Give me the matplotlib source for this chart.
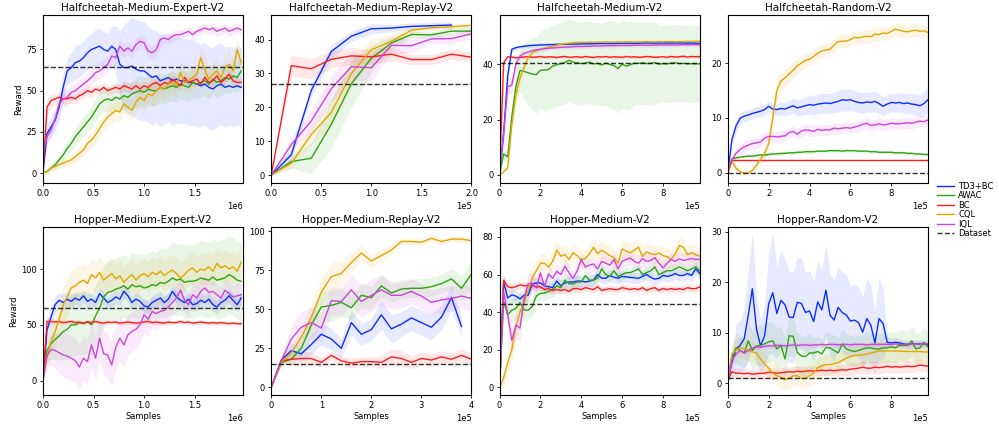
import numpy as np
import matplotlib
matplotlib.use('Agg')
import matplotlib.pyplot as plt

# Halfcheetah-Medium-Expert-V2 (paso 4e4)
hcme_td3 = [0, 24, 28, 32, 40, 52, 62, 64, 67, 68, 70, 73, 75, 76, 77, 75, 74, 77, 75, 66,
            64, 64, 65, 63, 62, 62, 60, 58, 59, 56, 57, 58, 56, 57, 56, 56, 55, 55, 54, 53,
            54, 52, 51, 53, 54, 52, 53, 52, 53, 52]
hcme_td3_sd = [0, 6, 6, 7, 8, 8, 8, 9, 10, 10, 10, 10, 10, 11, 11, 11, 11, 12, 14, 20,
               26, 28, 30, 30, 30, 30, 29, 29, 28, 28, 27, 27, 27, 27, 26, 26, 26, 26, 26, 25,
               25, 25, 25, 25, 25, 24, 24, 24, 24, 24]
hcme_awac = [0, 1, 3, 5, 8, 11, 15, 18, 22, 25, 28, 31, 34, 38, 42, 44, 45, 44, 46, 45,
             47, 46, 48, 49, 50, 49, 51, 50, 50, 52, 51, 52, 53, 52, 54, 53, 52, 55, 54, 55,
             56, 54, 57, 55, 56, 58, 57, 59, 58, 62]
hcme_awac_sd = [0, 2, 2, 3, 3, 4, 4, 5, 5, 6, 6, 6, 7, 7, 7, 7, 7, 8, 8, 8,
                8, 8, 8, 9, 9, 9, 9, 9, 9, 9, 9, 9, 9, 9, 9, 9, 9, 9, 9, 9,
                9, 9, 9, 9, 9, 9, 9, 9, 9, 9]
hcme_bc = [0, 40, 44, 45, 46, 45, 45, 46, 45, 47, 48, 50, 49, 51, 50, 52, 50, 51, 52, 51,
           53, 52, 51, 53, 51, 53, 52, 54, 55, 53, 55, 54, 57, 55, 53, 58, 55, 56, 57, 54,
           58, 55, 56, 59, 55, 57, 60, 56, 55, 55]
hcme_bc_sd = [0, 5, 4, 3, 3, 3, 3, 3, 3, 3, 3, 3, 3, 3, 3, 3, 3, 3, 3, 3,
              3, 3, 3, 3, 3, 3, 3, 3, 3, 3, 3, 3, 3, 3, 3, 3, 3, 3, 3, 3,
              3, 3, 3, 3, 3, 3, 3, 3, 3, 3]
hcme_cql = [0, 1, 3, 4, 5, 6, 7, 8, 10, 12, 14, 18, 20, 23, 27, 31, 34, 36, 38, 37,
            42, 40, 38, 43, 46, 44, 48, 47, 50, 52, 51, 54, 55, 53, 61, 55, 56, 58, 60, 70,
            63, 57, 60, 62, 58, 64, 66, 62, 75, 67]
hcme_cql_sd = [0, 1, 2, 2, 2, 3, 3, 3, 4, 4, 4, 5, 5, 5, 5, 5, 6, 6, 6, 6,
               6, 6, 6, 6, 6, 6, 7, 7, 7, 7, 7, 7, 7, 7, 7, 7, 7, 7, 7, 7,
               7, 7, 7, 7, 7, 7, 7, 7, 7, 7]
hcme_iql = [12, 22, 26, 33, 42, 45, 46, 49, 50, 52, 54, 56, 58, 61, 62, 64, 66, 71, 70, 77,
            74, 76, 74, 78, 80, 79, 74, 73, 75, 81, 82, 81, 83, 84, 84, 85, 86, 84, 86, 87,
            88, 87, 88, 86, 87, 88, 86, 87, 88, 87]
hcme_iql_sd = [3, 4, 4, 4, 5, 5, 5, 5, 5, 5, 5, 5, 5, 5, 5, 5, 5, 5, 5, 5,
               4, 4, 4, 4, 4, 4, 4, 4, 4, 4, 3, 3, 3, 3, 3, 3, 3, 3, 3, 3,
               3, 3, 3, 3, 3, 3, 3, 3, 3, 3]
hcme_data = 64.5

# Halfcheetah-Medium-Replay-V2 (paso 2e4)
hcmr_td3 = [0, 6, 25, 36.5, 41, 43.2, 43.4, 43.9, 44.1, 44.3]
hcmr_td3_sd = [0, 1.5, 2, 2, 1.5, 1.5, 1, 1, 1, 1]
hcmr_awac = [0, 4, 5, 15, 27, 34.5, 39, 41.5, 41.4, 42.5, 42.5]
hcmr_awac_sd = [0, 2, 4.5, 7, 7, 4, 2, 1, 1, 1, 1]
hcmr_bc = [0, 32.3, 31.4, 34.2, 35.2, 34.9, 35.7, 34.1, 34.1, 35.7, 34.8]
hcmr_bc_sd = [0, 3, 3, 2.5, 2.5, 2, 2, 1.5, 1.5, 1.5, 1.5]
hcmr_cql = [0, 3.5, 12, 18.5, 30, 37, 39.5, 42.8, 43.5, 43.8, 44.2]
hcmr_cql_sd = [0, 1.5, 3, 4, 4, 3, 2, 1, 0.8, 0.8, 0.8]
hcmr_iql = [0, 9, 16, 25.5, 32, 31.7, 38.3, 38.2, 40.2, 40.3, 41.7]
hcmr_iql_sd = [0, 2, 3, 4, 4, 4, 2.5, 2, 1.5, 1.5, 1.5]
hcmr_data = 27

# Halfcheetah-Medium-V2 (paso 2e4)
hcm_td3 = [0, 15, 36, 45.5, 46.1, 46.4, 46.6, 46.8, 46.9, 47.0, 47.1, 47.1, 47.2, 47.2, 47.3,
           47.3, 47.3, 47.4, 47.4, 47.4, 47.5, 47.5, 47.5, 47.5, 47.6, 47.6, 47.6, 47.6, 47.6,
           47.7, 47.7, 47.7, 47.7, 47.7, 47.7, 47.8, 47.8, 47.8, 47.7, 47.8, 47.8, 47.8, 47.8,
           47.8, 47.8, 47.8, 47.7, 47.8, 47.7, 47.6]
hcm_td3_sd = [0, 4, 3, 1, 0.8, 0.7, 0.7, 0.7, 0.7, 0.7, 0.7, 0.7, 0.7, 0.7, 0.7, 0.7, 0.7,
              0.7, 0.7, 0.7, 0.7, 0.7, 0.7, 0.7, 0.7, 0.7, 0.7, 0.7, 0.7, 0.7, 0.7, 0.7, 0.7,
              0.7, 0.7, 0.7, 0.7, 0.7, 0.7, 0.7, 0.7, 0.7, 0.7, 0.7, 0.7, 0.7, 0.7, 0.7, 0.7, 0.7]
hcm_awac = [0, 7.5, 6.5, 21, 32, 37.8, 37.5, 37, 36.5, 36.3, 37.9, 38, 38.2, 39.4, 39.9,
            40.3, 40.7, 41.5, 40.8, 40.6, 40.3, 40.5, 40.9, 40.2, 40.4, 39.8, 40.5, 40.0, 39.6,
            38.5, 40.1, 39.4, 39.9, 40.5, 40.4, 40.6, 40.3, 40.4, 40.7, 40.1, 40.3, 40.2, 40.5,
            40.6, 40.3, 40.4, 40.2, 40.3, 40.2, 40.2]
hcm_awac_sd = [1, 2, 2, 3, 5, 8, 10, 12, 13, 14, 14, 15, 15, 15, 15, 15, 15, 15, 15, 15,
               15, 15, 15, 15, 15, 15, 15, 16, 16, 16, 16, 16, 16, 15, 15, 15, 15, 15, 15, 14,
               14, 14, 14, 14, 14, 14, 14, 14, 14, 14]
hcm_bc = [0, 40.5, 42.8, 42.7, 42.4, 42.6, 42.7, 42.8, 42.6, 42.7, 42.9, 42.6, 42.8, 42.7,
          42.5, 42.8, 42.9, 42.6, 42.7, 42.8, 42.6, 42.9, 42.7, 42.5, 42.8, 42.7, 42.9, 42.6,
          42.8, 42.7, 42.6, 42.9, 42.7, 42.8, 42.6, 42.7, 42.9, 42.8, 42.6, 42.7, 42.8, 42.6,
          42.9, 42.7, 42.8, 43.0, 42.7, 42.9, 42.8, 42.9]
hcm_bc_sd = [0, 1, 0.6, 0.5, 0.5, 0.5, 0.5, 0.5, 0.5, 0.5, 0.5, 0.5, 0.5, 0.5, 0.5, 0.5, 0.5,
             0.5, 0.5, 0.5, 0.5, 0.5, 0.5, 0.5, 0.5, 0.5, 0.5, 0.5, 0.5, 0.5, 0.5, 0.5, 0.5,
             0.5, 0.5, 0.5, 0.5, 0.5, 0.5, 0.5, 0.5, 0.5, 0.5, 0.5, 0.5, 0.5, 0.5, 0.5, 0.5, 0.5]
hcm_cql = [0, 1, 2.5, 18, 29, 35, 39, 42.5, 44.3, 45, 45.5, 45.9, 46.3, 46.6, 47.0, 47.3,
           47.5, 47.7, 47.9, 48.0, 48.0, 48.0, 48.1, 48.0, 48.1, 48.1, 48.2, 48.1, 48.1, 48.2,
           48.1, 48.2, 48.2, 48.1, 48.2, 48.2, 48.3, 48.2, 48.2, 48.3, 48.2, 48.3, 48.3, 48.2,
           48.3, 48.3, 48.4, 48.3, 48.4, 48.4]
hcm_cql_sd = [0, 0.5, 1, 3, 3, 2, 1.5, 1, 0.8, 0.7, 0.6, 0.6, 0.6, 0.6, 0.6, 0.6, 0.6, 0.6,
              0.6, 0.6, 0.6, 0.6, 0.6, 0.6, 0.6, 0.6, 0.6, 0.6, 0.6, 0.6, 0.6, 0.6, 0.6, 0.6,
              0.6, 0.6, 0.6, 0.6, 0.6, 0.6, 0.6, 0.6, 0.6, 0.6, 0.6, 0.6, 0.6, 0.6, 0.6, 0.6]
hcm_iql = [0, 15, 32, 32.5, 40, 43, 44, 44.5, 45, 45.3, 45.5, 45.7, 45.9, 46, 46.1, 46.2,
           46.3, 46.3, 46.4, 46.5, 46.5, 46.6, 46.6, 46.7, 46.7, 46.7, 46.8, 46.8, 46.8, 46.9,
           46.9, 46.9, 46.9, 47.0, 47.0, 47.0, 47.0, 47.0, 47.0, 47.1, 47.1, 47.1, 47.1, 47.1,
           47.1, 47.2, 47.1, 47.2, 47.2, 47.2]
hcm_iql_sd = [0, 3, 3, 3, 2, 1.5, 1.2, 1, 1, 1, 0.8, 0.8, 0.8, 0.8, 0.8, 0.8, 0.8, 0.8, 0.8,
              0.8, 0.8, 0.8, 0.8, 0.8, 0.8, 0.8, 0.8, 0.8, 0.8, 0.8, 0.8, 0.8, 0.8, 0.8, 0.8,
              0.8, 0.8, 0.8, 0.8, 0.8, 0.8, 0.8, 0.8, 0.8, 0.8, 0.8, 0.8, 0.8, 0.8, 0.8]
hcm_data = 40.7

# Halfcheetah-Random-V2 (paso 2e4)
hcr_td3 = [0, 6, 8.5, 9.9, 10.3, 10.5, 10.8, 11.0, 11.2, 11.5, 12.1, 11.6, 11.5, 11.7, 11.6,
           11.9, 12.2, 11.8, 12.0, 12.2, 12.4, 12.3, 12.5, 12.6, 12.7, 12.6, 12.8, 13.0, 13.3,
           13.2, 13.3, 13.0, 12.8, 12.7, 12.9, 12.8, 13.0, 12.6, 12.1, 12.5, 12.8, 12.7, 12.8,
           12.6, 12.7, 12.5, 12.4, 12.2, 12.6, 13.3]
hcr_td3_sd = [0, 1, 1.2, 1, 1, 1, 1, 1, 1, 1, 1, 1, 1, 1.2, 1.2, 1.3, 1.4, 1.5, 1.5, 1.6,
              1.7, 1.8, 1.8, 1.8, 1.8, 1.8, 1.9, 2, 2, 2, 2, 1.9, 1.9, 1.9, 1.8, 1.8, 1.8, 1.8,
              1.7, 1.7, 1.7, 1.7, 1.8, 1.8, 1.8, 1.9, 2, 2, 2.2, 2.4]
hcr_awac = [0, 2.5, 2.7, 2.8, 2.9, 3.0, 3.0, 3.1, 3.2, 3.2, 3.3, 3.4, 3.4, 3.5, 3.5, 3.6,
            3.6, 3.7, 3.7, 3.8, 3.8, 3.8, 3.9, 3.9, 3.9, 4.0, 4.0, 4.0, 3.9, 4.0, 4.0, 4.0,
            3.9, 3.9, 3.9, 3.8, 3.8, 3.7, 3.7, 3.7, 3.7, 3.6, 3.6, 3.6, 3.5, 3.5, 3.4, 3.4,
            3.3, 3.3]
hcr_awac_sd = [0, 0.3, 0.3, 0.3, 0.3, 0.3, 0.3, 0.3, 0.3, 0.3, 0.3, 0.3, 0.3, 0.3, 0.3, 0.3,
               0.3, 0.3, 0.3, 0.3, 0.3, 0.3, 0.3, 0.3, 0.3, 0.3, 0.3, 0.3, 0.3, 0.3, 0.3, 0.3,
               0.3, 0.3, 0.3, 0.3, 0.3, 0.3, 0.3, 0.3, 0.3, 0.3, 0.3, 0.3, 0.3, 0.3, 0.3, 0.3,
               0.3, 0.3]
hcr_bc = [0, 2.2, 2.2, 2.2, 2.2, 2.2, 2.2, 2.2, 2.2, 2.2, 2.2, 2.2, 2.2, 2.2, 2.2, 2.2, 2.2,
          2.2, 2.2, 2.2, 2.2, 2.2, 2.2, 2.2, 2.2, 2.2, 2.2, 2.2, 2.2, 2.2, 2.2, 2.2, 2.2, 2.2,
          2.2, 2.2, 2.2, 2.2, 2.2, 2.2, 2.2, 2.2, 2.2, 2.2, 2.2, 2.2, 2.2, 2.2, 2.2, 2.2]
hcr_bc_sd = [0, 0.1, 0.1, 0.1, 0.1, 0.1, 0.1, 0.1, 0.1, 0.1, 0.1, 0.1, 0.1, 0.1, 0.1, 0.1,
             0.1, 0.1, 0.1, 0.1, 0.1, 0.1, 0.1, 0.1, 0.1, 0.1, 0.1, 0.1, 0.1, 0.1, 0.1, 0.1,
             0.1, 0.1, 0.1, 0.1, 0.1, 0.1, 0.1, 0.1, 0.1, 0.1, 0.1, 0.1, 0.1, 0.1, 0.1, 0.1,
             0.1, 0.1]
hcr_cql = [0, 2, 0.8, 0.2, -0.1, -0.1, 0.4, 1.3, 2.4, 3.5, 5.3, 10, 15, 16.7, 17.3, 18,
           18.7, 19.5, 20, 20.5, 20.7, 21.2, 21.8, 22.2, 22.4, 22.5, 23.3, 23.9, 24.0, 24.0,
           24.3, 24.7, 24.6, 24.8, 24.9, 24.8, 25.3, 25.2, 25.5, 25.4, 25.8, 26.2, 26.0, 25.8,
           25.7, 25.9, 26.0, 25.8, 25.9, 25.6]
hcr_cql_sd = [0, 0.5, 0.5, 0.5, 0.5, 0.5, 0.6, 0.8, 1, 1.2, 1.5, 1.8, 2, 1.8, 1.6, 1.5, 1.5,
              1.4, 1.3, 1.2, 1.2, 1.2, 1.2, 1.2, 1.2, 1.2, 1.2, 1.2, 1.2, 1.2, 1.2, 1.2, 1.2,
              1.2, 1.2, 1.2, 1.2, 1.2, 1.2, 1.2, 1.2, 1.2, 1.2, 1.2, 1.2, 1.2, 1.2, 1.2, 1.2, 1.2]
hcr_iql = [0, 2.3, 3.5, 4.2, 4.7, 5.0, 5.3, 5.4, 5.6, 6.3, 6.6, 6.6, 6.5, 6.6, 6.7, 7.3,
           7.5, 7.0, 7.6, 7.8, 7.7, 7.5, 7.9, 7.7, 7.8, 7.8, 8.1, 8.0, 8.1, 8.2, 8.1, 8.3,
           8.5, 8.8, 9.0, 8.6, 8.7, 8.9, 8.7, 8.8, 9.0, 8.9, 8.9, 9.0, 9.1, 9.0, 9.2, 9.4,
           9.3, 9.6]
hcr_iql_sd = [0, 0.5, 0.8, 1, 1, 1, 1, 1, 1, 1, 1, 1, 1, 1, 1, 1, 1, 1, 1, 1, 1, 1, 1, 1,
              1, 1, 1, 1, 1, 1, 1, 1, 1, 1, 1, 1, 1, 1, 1, 1, 1, 1, 1, 1, 1, 1, 1, 1, 1, 1]
hcr_data = 0

# Hopper-Medium-Expert-V2 (paso 4e4)
hpme_td3 = [0, 45, 57, 68, 72, 70, 73, 71, 74, 72, 76, 71, 73, 70, 78, 74, 70, 72, 75, 73,
            80, 76, 70, 73, 71, 67, 66, 70, 72, 74, 70, 73, 80, 75, 72, 70, 73, 68, 69, 72,
            70, 73, 68, 66, 70, 72, 76, 72, 68, 74]
hpme_td3_sd = [0, 10, 10, 8, 7, 7, 7, 6, 6, 6, 6, 6, 6, 6, 6, 6, 6, 6, 6, 6,
               6, 6, 6, 6, 6, 6, 6, 6, 6, 6, 6, 6, 6, 6, 6, 6, 6, 6, 6, 6,
               6, 6, 6, 6, 6, 6, 6, 6, 6, 6]
hpme_awac = [0, 27, 33, 37, 40, 44, 46, 50, 50, 52, 51, 53, 50, 58, 65, 75, 79, 80, 82, 83,
             85, 82, 86, 84, 85, 83, 84, 86, 85, 88, 87, 89, 92, 90, 91, 88, 89, 89, 90, 92,
             91, 90, 93, 90, 91, 92, 95, 93, 90, 89]
hpme_awac_sd = [0, 10, 14, 18, 22, 25, 27, 28, 28, 28, 28, 28, 28, 28, 28, 28, 28, 28, 28, 28,
                28, 28, 29, 29, 29, 30, 30, 30, 30, 31, 31, 31, 32, 32, 32, 33, 33, 33, 33, 34,
                34, 34, 34, 35, 35, 35, 35, 35, 35, 35]
hpme_bc = [0, 53, 53, 52.5, 53, 52, 52.5, 53, 52, 52.5, 51.5, 52.5, 52, 53, 52, 51.5, 52.5,
           52, 52.5, 51.5, 52, 52.5, 52, 51.5, 52, 52.5, 53, 52, 52.5, 52, 51.5, 52.5, 52, 52,
           53, 52, 52.5, 51.5, 52, 52.5, 52, 51.5, 52, 51.5, 52, 51.5, 51, 51.5, 51, 51]
hpme_bc_sd = [0, 4, 3, 2, 2, 2, 2, 2, 2, 2, 2, 2, 2, 2, 2, 2, 2, 2, 2, 2,
              2, 2, 2, 2, 2, 2, 2, 2, 2, 2, 2, 2, 2, 2, 2, 2, 2, 2, 2, 2,
              2, 2, 2, 2, 2, 2, 2, 2, 2, 2]
hpme_cql = [0, 22, 35, 44, 55, 68, 75, 83, 85, 88, 90, 87, 95, 92, 97, 90, 93, 96, 91, 94,
            88, 92, 95, 90, 94, 96, 93, 97, 95, 98, 94, 97, 99, 96, 92, 95, 99, 101, 97, 100,
            99, 102, 98, 105, 101, 103, 100, 102, 98, 106]
hpme_cql_sd = [0, 10, 12, 14, 15, 16, 16, 16, 16, 15, 15, 15, 14, 14, 14, 14, 14, 14, 14, 14,
               14, 14, 14, 14, 14, 14, 14, 14, 14, 14, 14, 14, 14, 14, 14, 14, 14, 14, 14, 14,
               14, 14, 14, 14, 14, 14, 14, 14, 14, 14]
hpme_iql = [0, 22, 28, 27, 25, 23, 22, 20, 18, 12, 20, 17, 32, 20, 38, 24, 23, 14, 30, 38,
            32, 41, 44, 46, 50, 59, 55, 62, 60, 62, 63, 66, 70, 74, 81, 72, 68, 77, 74, 80,
            83, 79, 80, 77, 74, 81, 78, 75, 76, 77]
hpme_iql_sd = [0, 10, 14, 16, 18, 20, 20, 20, 20, 20, 20, 20, 20, 20, 20, 20, 20, 20, 20, 20,
               20, 18, 18, 17, 16, 15, 15, 14, 14, 13, 13, 12, 12, 12, 12, 11, 11, 11, 11, 11,
               10, 10, 10, 10, 10, 10, 10, 10, 10, 10]
hpme_data = 64.7

# Hopper-Medium-Replay-V2 (paso 2e4)
hpmr_td3 = [0, 17.5, 23.5, 21.5, 27.5, 34, 31, 25, 41.5, 34, 37, 46.5, 37.5, 40.5, 44.5,
            41.5, 38.5, 45, 57.5, 39]
hpmr_td3_sd = [0, 2, 5, 5, 6, 7, 7, 6, 8, 7, 7, 9, 9, 8, 8, 8, 8, 8, 8, 6]
hpmr_awac = [0, 16, 18, 25, 40, 51.5, 52.5, 54.5, 51, 59, 57.5, 65, 60.5, 63, 63.5, 63.5,
             64.5, 66.5, 69.5, 63.5, 72.5]
hpmr_awac_sd = [0, 2, 3, 5, 8, 10, 10, 9, 8, 8, 7, 7, 6, 6, 6, 6, 6, 6, 7, 8, 9]
hpmr_bc = [0, 17, 18, 18.5, 18.5, 16, 20.5, 17, 15.5, 16.5, 16.5, 16, 19.5, 18.5, 16, 18.5,
           17.5, 19.5, 18, 20.5, 18]
hpmr_bc_sd = [0, 2, 4, 5, 4, 3, 3, 3, 3, 3, 3, 4, 5, 5, 4, 4, 4, 4, 4, 4, 4]
hpmr_cql = [0, 16, 22, 32, 45, 61, 71, 73, 80, 86, 81, 84.5, 88, 93.5, 93.5, 93, 95.5, 93.5,
            95, 95, 94]
hpmr_cql_sd = [0, 2, 4, 6, 8, 9, 9, 8, 6, 5, 4, 4, 3, 2, 2, 2, 2, 2, 2, 2, 2]
hpmr_iql = [0, 17, 31, 38.5, 41.5, 38, 55.5, 55, 62.5, 55, 59, 62.5, 59, 59, 61.5, 58.5,
            54.5, 56, 57, 58.5, 57]
hpmr_iql_sd = [0, 3, 8, 10, 10, 9, 9, 9, 10, 10, 10, 10, 9, 8, 8, 8, 8, 8, 8, 8, 8]
hpmr_data = 15

# Hopper-Medium-V2 (paso 2e4)
hpm_td3 = [0, 56, 47.5, 49.2, 48.5, 47, 49, 49, 55, 55.5, 55.5, 54, 53.5, 53, 56.5, 54,
           55.5, 56, 56, 56.5, 56.5, 56, 56.5, 57, 60, 58, 58, 59.5, 58.5, 58, 59, 58.7,
           58.5, 58.2, 58, 59, 60, 58.5, 57.5, 58, 59.5, 59, 59.5, 60.5, 59.5, 59.5, 60.5,
           59.5, 63, 60.5]
hpm_td3_sd = [0, 4, 4, 4, 3, 3, 3, 3, 3, 3, 3, 3, 3, 3, 3, 3, 3, 3, 3, 3, 3, 3, 3, 3, 3,
              3, 3, 3, 3, 3, 3, 3, 3, 3, 3, 3, 3, 3, 3, 3, 3, 3, 3, 3, 3, 3, 3, 3, 3, 3]
hpm_awac = [0, 45.7, 38.6, 41, 42, 45, 41.2, 41, 43, 48.5, 50, 50, 51, 52, 54, 53, 57, 55,
            55, 56, 56, 59.4, 57, 57, 58, 63, 60, 59, 62, 59, 60, 61, 61, 62, 63, 60, 61, 62,
            64, 60, 61, 62, 62, 63, 64, 63, 62, 63, 64, 62]
hpm_awac_sd = [0, 5, 6, 6, 6, 6, 6, 5, 5, 5, 4, 4, 4, 4, 4, 4, 4, 4, 4, 4, 3, 3, 3, 3, 3,
               3, 3, 3, 3, 3, 3, 3, 3, 3, 3, 3, 3, 3, 3, 3, 3, 3, 3, 3, 3, 3, 3, 3, 3, 3]
hpm_bc = [0, 57, 53.5, 53, 53.5, 54.5, 54, 54, 54, 53.5, 53.5, 52, 52.5, 51.5, 52, 51.5, 52,
          51, 52.5, 52.5, 52, 53, 52.5, 52, 53.5, 51.5, 52, 52.5, 52, 52, 53, 52.5, 52, 52.5,
          52, 53, 51.5, 52.5, 53, 51.5, 52.5, 52, 52.5, 52, 52.5, 52, 53, 52.5, 52.5, 53.5]
hpm_bc_sd = [0, 3, 2.5, 2.5, 2, 2, 2, 2, 2, 2, 2, 2, 2, 2, 2, 2, 2, 2, 2, 2, 2, 2, 2, 2, 2,
             2, 2, 2, 2, 2, 2, 2, 2, 2, 2, 2, 2, 2, 2, 2, 2, 2, 2, 2, 2, 2, 2, 2, 2, 2]
hpm_cql = [0, 5, 13, 20, 32, 40, 45, 51.6, 58, 62, 66, 66, 64, 67, 73, 69.7, 70.6, 68, 71.5,
           70, 68, 68.5, 71, 74.5, 71, 73, 71.5, 70, 69, 66, 73.6, 72.5, 71.5, 73, 74.5, 69.7,
           72, 71, 70.6, 71.5, 70, 69.5, 68, 71, 75.4, 74.5, 70.6, 71.5, 70.5, 69.7]
hpm_cql_sd = [0, 5, 6, 7, 7, 7, 6, 6, 6, 6, 5, 5, 5, 5, 5, 5, 5, 5, 5, 5, 5, 5, 5, 5, 5,
              5, 5, 5, 5, 5, 5, 5, 5, 5, 5, 5, 5, 5, 5, 5, 5, 5, 5, 5, 5, 5, 5, 5, 5, 5]
hpm_iql = [0, 51, 38.6, 25, 33, 31.5, 47, 55, 55.5, 52.8, 60.8, 53.7, 60.3, 58, 61.7, 60,
           64.4, 61, 58, 62, 68, 64, 65, 65.6, 63, 67, 66, 65, 68, 63, 67, 68, 68.8, 67, 66,
           68.5, 67, 67.5, 69, 66, 63.5, 66, 68, 67, 68.3, 67.5, 68, 68.5, 68, 68]
hpm_iql_sd = [0, 5, 6, 7, 7, 7, 6, 6, 5, 5, 4, 4, 4, 4, 4, 4, 4, 4, 4, 4, 4, 4, 4, 4, 4,
              4, 4, 4, 4, 4, 4, 4, 4, 4, 4, 4, 4, 4, 4, 4, 4, 4, 4, 4, 4, 4, 4, 4, 4, 4]
hpm_data = 44.4

# Hopper-Random-V2 (paso 2e4)
hpr_td3 = [0.5, 4.1, 6.8, 7.5, 8.8, 13.4, 18.7, 10.8, 7.4, 9.4, 15.7, 17.9, 13.8, 16.4, 15.5,
           13.1, 13, 16, 15.8, 14, 14.3, 12.2, 16.1, 14.5, 18.4, 13.5, 12.5, 15, 14, 13.5,
           12.3, 12.5, 12, 10.1, 12.8, 11.5, 8, 12.8, 11.8, 8.1, 8, 8.1, 8, 7.8, 7.6, 7.8,
           7.8, 7.8, 7.8, 7.6]
hpr_td3_sd = [0.5, 2, 5, 5, 6, 9, 11, 7, 5, 6, 10, 12, 9, 10, 9, 9, 9, 9, 9, 8,
              8, 8, 8, 8, 9, 8, 8, 8, 8, 8, 7, 7, 7, 7, 8, 8, 6, 8, 7, 1,
              1, 1, 0.8, 0.8, 0.8, 0.8, 0.8, 0.8, 0.8, 0.8]
hpr_awac = [0.5, 5.1, 7, 6.5, 6, 8.4, 6.5, 7.4, 7.5, 7.8, 8.2, 8.4, 6.8, 7.5, 4.8, 9.4, 9.3,
            6.1, 5.4, 5.3, 6, 6, 6.3, 5.8, 7.1, 7, 6.5, 6, 7.8, 6.8, 6.5, 6.3, 6.5, 6.8, 7, 7,
            6.8, 6.8, 7, 7, 7.2, 7, 7.5, 7.5, 7.5, 8.4, 6.8, 7, 8.1, 7.2]
hpr_awac_sd = [0.5, 2, 3, 3, 3, 4, 4, 4, 4, 4, 4, 4, 4, 4, 4, 4, 4, 4, 4, 4,
               4, 3, 3, 3, 3, 3, 3, 3, 3, 3, 3, 3, 3, 3, 3, 3, 3, 3, 3, 3,
               3, 3, 3, 3, 3, 3, 3, 3, 3, 3]
hpr_bc = [0.5, 2.3, 2, 2, 1.9, 2, 1.8, 1.9, 2, 2, 2.2, 2.1, 2, 2.1, 2.2, 2.3, 2.2, 2.4, 2.3,
          2.4, 2.5, 2.4, 2.5, 2.6, 2.5, 2.6, 2.5, 2.6, 2.7, 2.6, 2.8, 2.9, 3, 3.2, 3, 3, 3.2,
          3.1, 3.2, 3.4, 3.2, 3.3, 3.2, 3.3, 3.4, 3.3, 3.4, 3.6, 3.5, 3.4]
hpr_bc_sd = [0.3, 1, 1, 1, 1, 1, 1, 1, 1, 1, 1, 1, 1, 1, 1, 1, 1, 1, 1, 1, 1, 1, 1, 1, 1,
             1, 1, 1, 1, 1.2, 1.2, 1.2, 1.2, 1.2, 1.2, 1.2, 1.2, 1.2, 1.2, 1.2, 1.2, 1.2, 1.2,
             1.2, 1.2, 1.2, 1.2, 1.2, 1.2, 1.2]
hpr_cql = [0.5, 5.8, 6.5, 7.1, 6.8, 6.5, 6.2, 6, 4.8, 3.8, 3, 2, 1.5, 1.2, 0.7, 1, 1.5, 1.5,
           1, 1, 1.5, 2, 3.1, 3.5, 3.7, 3.7, 3.9, 4.1, 4.5, 5, 5.3, 5.5, 5.6, 5.6, 5.8, 6, 6.2,
           6.4, 6.4, 6.4, 6.4, 6.4, 6.4, 6.3, 6.3, 6.3, 6.3, 6.3, 6.2, 6.2]
hpr_cql_sd = [0.5, 2, 2, 2, 2, 2, 2, 2, 2, 2, 2, 2, 2, 2, 2, 2, 2, 2, 2, 2, 2, 2, 2, 2, 2,
              2, 2, 2, 2, 2, 2, 2, 2, 2, 2, 2, 2, 2, 2, 2, 2, 2, 2, 2, 2, 2, 2, 2, 2, 2]
hpr_iql = [0.5, 4.5, 5.8, 6.5, 6, 6.5, 7, 7.2, 7.1, 7.3, 7.4, 7.4, 7.5, 7.5, 7.4, 7.5, 7.6,
           7.5, 7.6, 7.6, 7.5, 7.6, 7.6, 7.7, 7.6, 7.7, 7.7, 7.6, 7.7, 7.7, 7.6, 7.7, 7.7,
           7.7, 7.6, 7.7, 7.7, 7.7, 7.7, 7.7, 7.7, 7.8, 7.7, 7.7, 7.8, 7.7, 7.8, 7.8, 7.8, 7.8]
hpr_iql_sd = [0.3, 0.5, 0.5, 0.5, 0.5, 0.5, 0.5, 0.5, 0.5, 0.5, 0.5, 0.5, 0.5, 0.5, 0.5,
              0.5, 0.5, 0.5, 0.5, 0.5, 0.5, 0.5, 0.5, 0.5, 0.5, 0.5, 0.5, 0.5, 0.5, 0.5, 0.5,
              0.5, 0.5, 0.5, 0.5, 0.5, 0.5, 0.5, 0.5, 0.5, 0.5, 0.5, 0.5, 0.5, 0.5, 0.5, 0.5,
              0.5, 0.5, 0.5]
hpr_data = 1.1

algoritmos = ['TD3+BC', 'AWAC', 'BC', 'CQL', 'IQL']
colores = ['#0a2eff', '#2ea311', '#ff1c1c', '#e3a600', '#cc44dd']

ticks_1e6 = [0, 0.5e6, 1.0e6, 1.5e6]
ticks_2e5 = [0, 0.5e5, 1.0e5, 1.5e5, 2.0e5]
ticks_4e5 = [0, 1e5, 2e5, 3e5, 4e5]
ticks_1e5 = [0, 2e5, 4e5, 6e5, 8e5]

paneles = [
    ('Halfcheetah-Medium-Expert-V2', 4e4,
     [hcme_td3, hcme_awac, hcme_bc, hcme_cql, hcme_iql],
     [hcme_td3_sd, hcme_awac_sd, hcme_bc_sd, hcme_cql_sd, hcme_iql_sd],
     hcme_data, 1.98e6, ticks_1e6, (-6, 96), [0, 25, 50, 75]),
    ('Halfcheetah-Medium-Replay-V2', 2e4,
     [hcmr_td3, hcmr_awac, hcmr_bc, hcmr_cql, hcmr_iql],
     [hcmr_td3_sd, hcmr_awac_sd, hcmr_bc_sd, hcmr_cql_sd, hcmr_iql_sd],
     hcmr_data, 2e5, ticks_2e5, (-2.3, 47.3), [0, 10, 20, 30, 40]),
    ('Halfcheetah-Medium-V2', 2e4,
     [hcm_td3, hcm_awac, hcm_bc, hcm_cql, hcm_iql],
     [hcm_td3_sd, hcm_awac_sd, hcm_bc_sd, hcm_cql_sd, hcm_iql_sd],
     hcm_data, 9.8e5, ticks_1e5, (-3, 58), [0, 20, 40]),
    ('Halfcheetah-Random-V2', 2e4,
     [hcr_td3, hcr_awac, hcr_bc, hcr_cql, hcr_iql],
     [hcr_td3_sd, hcr_awac_sd, hcr_bc_sd, hcr_cql_sd, hcr_iql_sd],
     hcr_data, 9.8e5, ticks_1e5, (-1.9, 28.8), [0, 10, 20]),
    ('Hopper-Medium-Expert-V2', 4e4,
     [hpme_td3, hpme_awac, hpme_bc, hpme_cql, hpme_iql],
     [hpme_td3_sd, hpme_awac_sd, hpme_bc_sd, hpme_cql_sd, hpme_iql_sd],
     hpme_data, 1.98e6, ticks_1e6, (-12.9, 137.7), [0, 50, 100]),
    ('Hopper-Medium-Replay-V2', 2e4,
     [hpmr_td3, hpmr_awac, hpmr_bc, hpmr_cql, hpmr_iql],
     [hpmr_td3_sd, hpmr_awac_sd, hpmr_bc_sd, hpmr_cql_sd, hpmr_iql_sd],
     hpmr_data, 4e5, ticks_4e5, (-4.9, 102.8), [0, 25, 50, 75, 100]),
    ('Hopper-Medium-V2', 2e4,
     [hpm_td3, hpm_awac, hpm_bc, hpm_cql, hpm_iql],
     [hpm_td3_sd, hpm_awac_sd, hpm_bc_sd, hpm_cql_sd, hpm_iql_sd],
     hpm_data, 9.8e5, ticks_1e5, (-4.1, 85.3), [0, 20, 40, 60, 80]),
    ('Hopper-Random-V2', 2e4,
     [hpr_td3, hpr_awac, hpr_bc, hpr_cql, hpr_iql],
     [hpr_td3_sd, hpr_awac_sd, hpr_bc_sd, hpr_cql_sd, hpr_iql_sd],
     hpr_data, 9.8e5, ticks_1e5, (-2.3, 30.9), [0, 10, 20, 30]),
]

fig, axes = plt.subplots(2, 4, figsize=(9.99, 4.25), dpi=100)
fig.subplots_adjust(left=0.043, right=0.929, top=0.965, bottom=0.0706,
                    wspace=0.14, hspace=0.262)

for i, (ax, panel) in enumerate(zip(axes.flat, paneles)):
    titulo, paso, medias, desvios, ref, xmax, xticks, ylim, yticks = panel
    for m, s, c, nombre in zip(medias, desvios, colores, algoritmos):
        m = np.array(m, dtype=float)
        s = np.array(s, dtype=float)
        x = np.arange(len(m)) * paso
        ax.fill_between(x, m - s, m + s, color=c, alpha=0.1, lw=0)
        ax.plot(x, m, color=c, lw=1.0, label=nombre)
    ax.axhline(ref, color='k', ls='--', lw=1.0, alpha=0.8, label='Dataset')
    ax.set_xlim(0, xmax)
    ax.set_xticks(xticks)
    ax.ticklabel_format(axis='x', style='sci', scilimits=(0, 0))
    ax.set_ylim(*ylim)
    ax.set_yticks(yticks)
    ax.set_title(titulo, fontsize=7.5, pad=3)
    ax.tick_params(labelsize=6, length=2.5, width=0.6, pad=2)
    ax.xaxis.get_offset_text().set_fontsize(6)
    for sp in ax.spines.values():
        sp.set_linewidth(0.8)
    if i % 4 == 0:
        ax.set_ylabel('Reward', fontsize=6, labelpad=2)
    if i >= 4:
        ax.set_xlabel('Samples', fontsize=6, labelpad=1)

handles, labels = axes.flat[0].get_legend_handles_labels()
fig.legend(handles, labels, loc='center left', bbox_to_anchor=(0.935, 0.506),
           frameon=False, fontsize=6, labelspacing=0.05, handlelength=2.0,
           handletextpad=0.5, borderaxespad=0)

plt.savefig('out.png', dpi=100)
